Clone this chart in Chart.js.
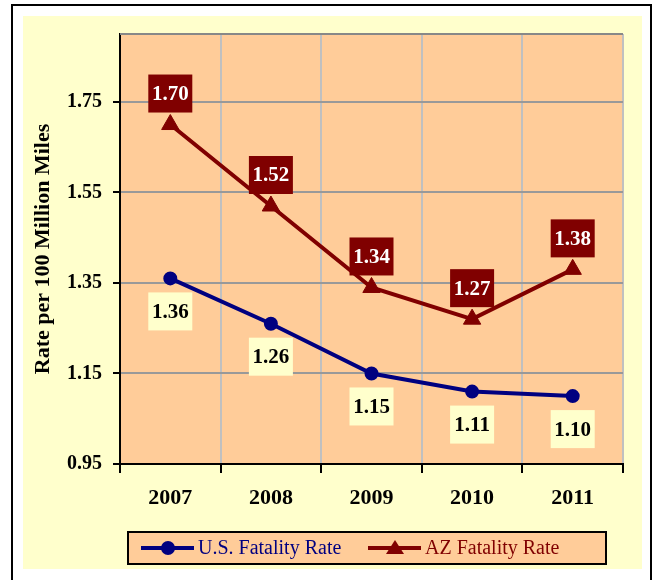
<!DOCTYPE html>
<html>
<head>
<meta charset="utf-8">
<script src="https://cdn.jsdelivr.net/npm/chart.js@4.4.1/dist/chart.umd.min.js"></script>
<style>
  body { margin: 0; background: #ffffff; }
</style>
</head>
<body>
<canvas id="myChart" width="659" height="580"></canvas>
<script>
// 차트 데이터
const years = ["2007", "2008", "2009", "2010", "2011"];
const usRate = [1.36, 1.26, 1.15, 1.11, 1.1];
const azRate = [1.7, 1.52, 1.34, 1.27, 1.38];
const yTicks = [0.95, 1.15, 1.35, 1.55, 1.75];
const yMin = 0.95;
const yMax = 1.9;
const yTitle = "Rate per 100 Million Miles";

const serif = "'Liberation Serif', 'Times New Roman', serif";
const navy = "#000080";
const darkRed = "#800000";
const peach = "#FFCC99";
const cream = "#FFFFCC";

// 배경, 테두리, 플롯 영역
const backdrop = {
  id: "backdrop",
  beforeDraw(chart) {
    const { ctx, chartArea } = chart;
    ctx.save();
    ctx.fillStyle = "#ffffff";
    ctx.fillRect(0, 0, chart.width, chart.height);
    ctx.fillStyle = cream;
    ctx.fillRect(23, 16, 619, 553);
    ctx.strokeStyle = "#000000";
    ctx.lineWidth = 2;
    ctx.strokeRect(12, 5, 639, 600);
    ctx.fillStyle = peach;
    ctx.fillRect(chartArea.left, chartArea.top, chartArea.right - chartArea.left, chartArea.bottom - chartArea.top);
    ctx.restore();
  },
  beforeDatasetsDraw(chart) {
    // 위쪽 회색 테두리
    const { ctx, chartArea } = chart;
    ctx.save();
    ctx.strokeStyle = "#888888";
    ctx.lineWidth = 2;
    ctx.beginPath();
    ctx.moveTo(chartArea.left, chartArea.top);
    ctx.lineTo(chartArea.right, chartArea.top);
    ctx.stroke();
    ctx.restore();
  },
};

// 값 라벨 (상자 안의 숫자)
const valueLabels = {
  id: "valueLabels",
  afterDatasetsDraw(chart) {
    const { ctx } = chart;
    ctx.save();
    ctx.font = "bold 21px " + serif;
    ctx.textAlign = "center";
    ctx.textBaseline = "middle";
    chart.data.datasets.forEach((ds, i) => {
      const meta = chart.getDatasetMeta(i);
      meta.data.forEach((pt, j) => {
        const text = ds.data[j].toFixed(2);
        const cy = ds.labelAbove ? pt.y - 31 : pt.y + 33;
        ctx.fillStyle = ds.labelBg;
        ctx.fillRect(pt.x - 22, cy - 19, 44, 38);
        ctx.fillStyle = ds.labelColor;
        ctx.fillText(text, pt.x, cy + 1);
      });
    });
    ctx.restore();
  },
  afterDraw(chart) {
    const { ctx, chartArea } = chart;
    ctx.save();
    // y축 제목
    ctx.translate(43, (chartArea.top + chartArea.bottom) / 2);
    ctx.rotate(-Math.PI / 2);
    ctx.font = "bold 22px " + serif;
    ctx.fillStyle = "#000000";
    ctx.textAlign = "center";
    ctx.textBaseline = "middle";
    ctx.fillText(yTitle, 0, 0);
    ctx.restore();

    // 범례
    ctx.save();
    ctx.fillStyle = peach;
    ctx.fillRect(128, 532, 478, 32);
    ctx.strokeStyle = "#000000";
    ctx.lineWidth = 2;
    ctx.strokeRect(128, 532, 478, 32);
    const items = [
      { ds: chart.data.datasets[0], x: 141 },
      { ds: chart.data.datasets[1], x: 368 },
    ];
    const ly = 548;
    items.forEach(({ ds, x }) => {
      ctx.strokeStyle = ds.borderColor;
      ctx.lineWidth = 4;
      ctx.beginPath();
      ctx.moveTo(x, ly);
      ctx.lineTo(x + 53, ly);
      ctx.stroke();
      ctx.fillStyle = ds.borderColor;
      const cx = x + 27;
      ctx.beginPath();
      if (ds.pointStyle === "triangle") {
        ctx.moveTo(cx, ly - 8);
        ctx.lineTo(cx + 9, ly + 6);
        ctx.lineTo(cx - 9, ly + 6);
        ctx.closePath();
      } else {
        ctx.arc(cx, ly, 7, 0, Math.PI * 2);
      }
      ctx.fill();
      ctx.font = "20px " + serif;
      ctx.textAlign = "left";
      ctx.textBaseline = "middle";
      ctx.fillText(ds.label, x + 57, ly + 1);
    });
    ctx.restore();
  },
};

const chartData = {
  labels: years,
  datasets: [
    {
      label: "U.S. Fatality Rate",
      data: usRate,
      borderColor: navy,
      backgroundColor: navy,
      borderWidth: 4,
      pointStyle: "circle",
      pointRadius: 6,
      pointBorderWidth: 2,
      labelAbove: false,
      labelBg: cream,
      labelColor: "#000000",
    },
    {
      label: "AZ Fatality Rate",
      data: azRate,
      borderColor: darkRed,
      backgroundColor: darkRed,
      borderWidth: 4,
      pointStyle: "triangle",
      pointRadius: 10,
      pointBorderWidth: 1,
      labelAbove: true,
      labelBg: darkRed,
      labelColor: "#ffffff",
    },
  ],
};

const chartOptions = {
  responsive: false,
  animation: false,
  layout: { padding: { left: 0, top: 34, right: 36, bottom: 0 } },
  plugins: {
    legend: { display: false },
    title: { display: false },
    tooltip: { enabled: false },
  },
  scales: {
    x: {
      offset: true,
      grid: { offset: true, color: "#C0C0C0", lineWidth: 2, tickColor: "#000000", tickLength: 9, tickWidth: 2 },
      border: { color: "#000000", width: 2 },
      ticks: { color: "#000000", font: { family: serif, size: 22, weight: "bold" }, padding: 12 },
      afterFit(scale) {
        scale.height = 116;
      },
    },
    y: {
      min: yMin,
      max: yMax,
      grid: { color: "#999999", lineWidth: 2, tickColor: "#000000", tickLength: 7, tickWidth: 2 },
      border: { color: "#000000", width: 2 },
      ticks: {
        color: "#000000",
        font: { family: serif, size: 20, weight: "bold" },
        padding: 11,
        callback: (v) => Number(v).toFixed(2),
      },
      afterBuildTicks(scale) {
        scale.ticks = yTicks.map((v) => ({ value: v }));
      },
      afterFit(scale) {
        scale.width = 120;
      },
    },
  },
};

const ctx = document.getElementById("myChart").getContext("2d");
const myChart = new Chart(ctx, {
  type: "line",
  data: chartData,
  options: chartOptions,
  plugins: [backdrop, valueLabels],
});
</script>
</body>
</html>
